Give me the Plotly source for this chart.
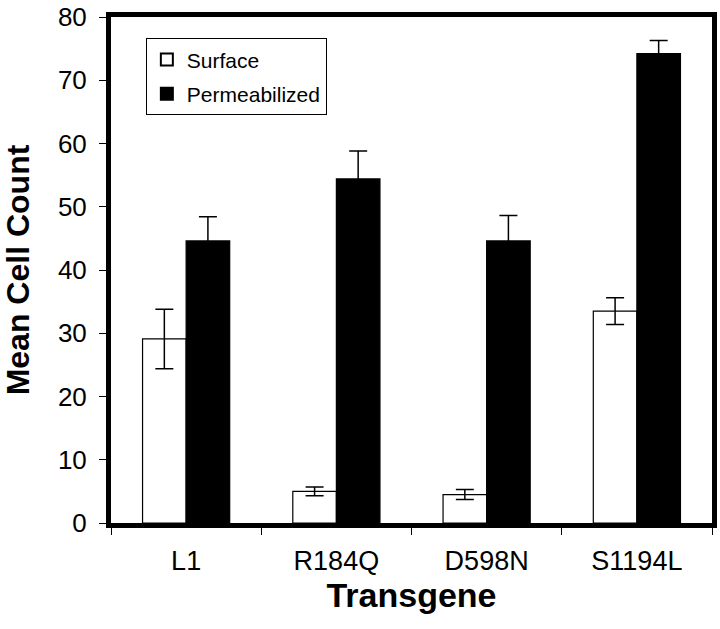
import plotly.graph_objects as go

categories = ["L1", "R184Q", "D598N", "S1194L"]
surface = [29.1, 5.0, 4.5, 33.5]
surface_err = [4.7, 0.7, 0.8, 2.1]
permeabilized = [44.6, 54.4, 44.6, 74.2]
permeabilized_err = [3.8, 4.4, 4.0, 2.1]

FONT = "Liberation Sans, Arial, sans-serif"

fig = go.Figure()
fig.add_trace(go.Bar(
    name="Surface", x=categories, y=surface, legendgroup="s",
    marker=dict(color="white", line=dict(color="black", width=1.2)),
    error_y=dict(type="data", array=surface_err, color="black", thickness=1.5, width=9),
))
fig.add_trace(go.Bar(
    name="Permeabilized", x=categories, y=permeabilized, legendgroup="p",
    marker=dict(color="black", line=dict(color="black", width=1.2)),
    error_y=dict(type="data", array=permeabilized_err, color="black", thickness=1.5, width=9),
))

fig.update_layout(
    width=720, height=629,
    margin=dict(l=111, r=8, t=17, b=106),
    paper_bgcolor="white", plot_bgcolor="white",
    barmode="group", bargap=0.42, bargroupgap=0,
    font=dict(family=FONT, color="black"),
    showlegend=True,
    legend=dict(
        x=0.058, y=0.958, xanchor="left", yanchor="top",
        bgcolor="white", bordercolor="black", borderwidth=1,
        font=dict(size=21, family=FONT),
        itemsizing="constant", tracegroupgap=4, itemwidth=30,
    ),
)
fig.update_xaxes(
    automargin=False,
    showline=True, linecolor="black", linewidth=5, mirror=True,
    ticks="outside", tickson="boundaries", ticklen=7, tickwidth=1, tickcolor="black",
    tickfont=dict(size=27), ticklabelstandoff=10, showgrid=False,
    title=dict(text="<b>Transgene</b>", font=dict(size=34), standoff=8),
)
fig.update_yaxes(
    automargin=False,
    range=[0, 80], dtick=10,
    showline=True, linecolor="black", linewidth=5, mirror=True,
    ticks="outside", ticklen=7, tickwidth=1, tickcolor="black",
    tickfont=dict(size=26), ticklabelstandoff=7, showgrid=False, zeroline=False,
    title=dict(text="<b>Mean Cell Count</b>", font=dict(size=32), standoff=30),
)

fig.write_html("out.html", config={"displayModeBar": False},
               post_script="document.body.style.margin='0px';")
